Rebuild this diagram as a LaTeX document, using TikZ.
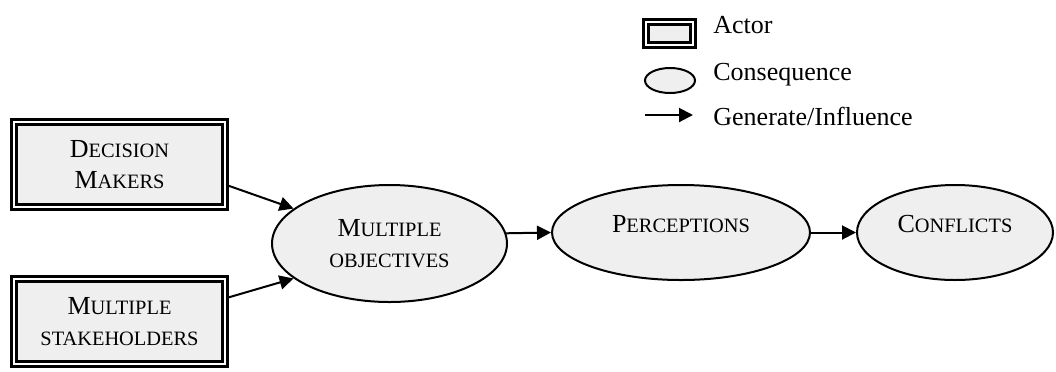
\documentclass[tikz,border=0pt]{standalone}
\usepackage{fontspec}
\setmainfont{Liberation Serif}
\usepackage{xcolor}
\usepackage{tikz}
\usetikzlibrary{positioning, arrows.meta, calc, shapes.geometric}
\definecolor{boxgray}{HTML}{EFEFEF}

% first letter at full size, the rest as small capitals
\newcommand\capsc[2]{#1{\fontsize{10.2pt}{15.5pt}\selectfont #2}}

\begin{document}
\begin{tikzpicture}[x=0.5pt, y=-0.5pt,
    font=\fontsize{13pt}{15.5pt}\selectfont,
    actor/.style={draw, fill=boxgray, line width=1.5pt, double=white,
                  double distance=1pt, align=center, inner sep=0pt},
    conseq/.style={ellipse, draw, fill=boxgray, line width=1pt,
                   align=center, inner sep=0pt},
    flow/.style={-{Triangle[length=7pt, width=7pt]}, line width=1pt}]
  \useasboundingbox (0,0) rectangle (1056,371);

  % actors
  \node[actor, minimum width=105.5pt, minimum height=42.5pt] (dm) at (119.5,164.5)
    {\capsc{D}{ECISION}\\\capsc{M}{AKERS}};
  \node[actor, minimum width=105.5pt, minimum height=42.5pt] (ms) at (119.5,321.5)
    {\capsc{M}{ULTIPLE}\\\capsc{}{STAKEHOLDERS}};

  % consequences
  \node[conseq, minimum width=117.5pt, minimum height=58.5pt] (mo) at (389.5,243.5)
    {\capsc{M}{ULTIPLE}\\\capsc{}{OBJECTIVES}};
  \node[conseq, minimum width=129pt, minimum height=47.5pt,
        text height=6pt, text depth=6pt] (pe) at (681,232.5)
    {\capsc{P}{ERCEPTIONS}};
  \node[conseq, minimum width=98pt, minimum height=47.5pt,
        text height=6pt, text depth=6pt] (cf) at (955,232.5)
    {\capsc{C}{ONFLICTS}};

  \draw[flow] ($(dm.east)+(0,20.5)$) -- (mo.160);
  \draw[flow] ($(ms.east)+(0,-23.5)$) -- (mo.200);
  \draw[flow] (mo.5) -- (pe.west);
  \draw[flow] (pe.east) -- (cf.west);

  % legend
  \node[actor, minimum width=23.5pt, minimum height=11.5pt] (keyactor) at (669.5,33.5) {};
  \node[conseq, minimum width=25pt, minimum height=12.5pt] (keyconseq) at (670,80.5) {};
  \coordinate (keyfrom) at (645,115);
  \coordinate (keyto) at (693,115);
  \draw[flow] (keyfrom) -- (keyto);
  \node[anchor=base west, inner sep=0pt] (lblactor) at (713,33) {Actor};
  \node[anchor=base west, inner sep=0pt] (lblconseq) at (713,80) {Consequence};
  \node[anchor=base west, inner sep=0pt] (lblflow) at (713,125) {Generate/Influence};
\end{tikzpicture}
\end{document}
